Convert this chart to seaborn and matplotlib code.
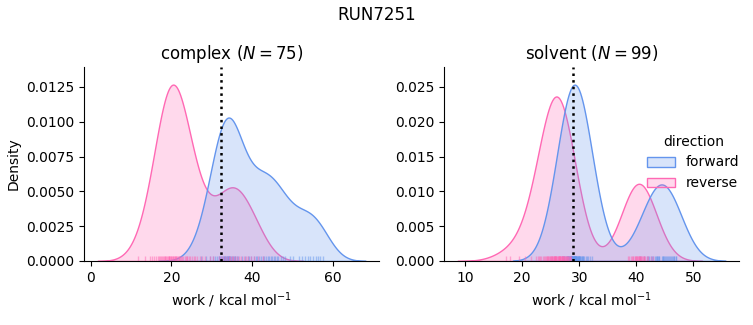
import matplotlib
matplotlib.use("Agg")
import matplotlib.pyplot as plt
import pandas as pd
import seaborn as sns

# ---- data (work values, kcal/mol) ----
complex_forward = [
    27.3, 28.6, 29.5,
    30.2, 30.7, 31.4, 31.8, 31.9,
    32.1, 32.3, 32.6, 32.8, 33.0, 33.1, 33.2, 33.4, 33.6, 33.7, 33.8,
    34.0, 34.1, 34.2, 34.3, 34.4, 34.5, 34.8, 35.0, 35.3, 35.5, 35.7, 35.9,
    36.3, 36.6, 37.4,
    38.3, 38.9, 39.2, 39.7,
    40.4, 40.9, 41.3, 41.8,
    42.2, 42.7, 43.1, 43.5, 43.9,
    44.3, 44.6, 45.0, 45.4, 45.8,
    46.1, 46.5, 47.3, 47.7,
    48.2, 49.5,
    50.3, 51.6,
    52.4, 53.1, 53.8,
    54.5, 55.2, 55.9,
    56.4, 57.0, 57.7,
]
complex_reverse = [
    11.6, 13.4, 14.6, 15.3, 15.8,
    16.2, 16.6, 16.9, 17.2, 17.5, 17.7, 17.9,
    18.1, 18.3, 18.5, 18.7, 18.9, 19.1, 19.3, 19.4, 19.5, 19.6, 19.8, 19.9,
    20.1, 20.3, 20.4, 20.6, 20.8, 21.0, 21.1, 21.2, 21.4, 21.6,
    21.8, 21.9,
    22.2, 22.5, 22.7, 23.0, 23.3, 23.5, 23.8, 23.9,
    24.3, 24.7, 25.1, 25.5, 25.9,
    26.4, 27.0, 27.7,
    28.3, 29.6,
    30.4, 31.7,
    32.3, 32.9, 33.4, 33.8,
    34.2, 34.6, 35.0, 35.4, 35.9,
    36.3, 36.8, 37.2, 37.9,
    38.5, 39.1, 39.8,
    40.6, 41.4,
    42.8,
]
solvent_forward = [
    27.0, 27.2, 27.3, 27.4, 27.6, 27.8, 27.9,
    28.0, 28.1, 28.1, 28.2, 28.2, 28.3, 28.4, 28.4, 28.5, 28.5,
    28.6, 28.6, 28.7, 28.7, 28.7, 28.8, 28.8, 28.8, 28.9, 28.9, 28.9,
    29.0, 29.0, 29.0, 29.1, 29.1, 29.1, 29.2, 29.2, 29.2,
    29.3, 29.3, 29.3, 29.4, 29.4, 29.5, 29.5, 29.5, 29.6, 29.6, 29.7,
    29.7, 29.8, 29.9, 29.9, 30.0, 30.0,
    30.1, 30.2, 30.3, 30.4, 30.5, 30.6, 30.7, 30.9, 31.1, 31.4, 31.6, 31.8,
    32.2,
    40.6, 41.3, 41.8, 42.0, 42.2, 42.5, 42.8, 43.0, 43.2, 43.4, 43.6,
    43.7, 43.8, 43.9, 44.0, 44.5, 44.6, 44.7,
    44.9, 45.0, 45.2, 45.4, 45.5, 45.7, 45.9, 46.1, 46.3, 46.5, 46.6, 46.7,
    46.9, 47.0,
]
solvent_reverse = [
    17.2, 17.8, 19.4, 20.5, 21.6, 22.4, 22.7, 22.9, 23.1, 23.3,
    23.6, 23.8, 24.0, 24.2,
    24.3, 24.4, 24.5, 24.6, 24.7, 24.8, 24.9, 25.0, 25.1, 25.2,
    25.2, 25.3, 25.4, 25.5, 25.5, 25.6, 25.7, 25.7, 25.8, 25.8,
    25.9, 25.9, 26.0, 26.1, 26.2, 26.3,
    26.4, 26.4, 26.5, 26.5, 26.6, 26.6, 26.7, 26.7, 26.8, 26.9,
    26.9, 27.0, 27.0, 27.1, 27.2, 27.2, 27.3, 27.4, 27.5, 27.5,
    27.6, 27.7, 27.8, 27.9, 28.0, 28.1, 28.2, 28.3, 28.4, 28.5,
    38.5, 38.8, 39.0, 39.2, 39.4, 39.5, 39.7, 39.8, 39.9, 40.0,
    40.1, 40.2, 40.3, 40.4, 40.4, 40.5, 40.6, 40.7, 40.8, 40.9, 41.0,
    41.1, 41.3, 41.4, 41.6, 41.8, 42.1, 42.5, 43.0,
]
phases = ["complex", "solvent"]
directions = ["forward", "reverse"]
n_samples = [75, 99]
free_energy = [32.2, 28.9]
colors = ["cornflowerblue", "hotpink"]
run_name = "RUN7251"

# ---- table ----
work_sets = {("complex", "forward"): complex_forward,
             ("complex", "reverse"): complex_reverse,
             ("solvent", "forward"): solvent_forward,
             ("solvent", "reverse"): solvent_reverse}
rows = []
for phase in phases:
    for d in directions:
        for w in work_sets[(phase, d)]:
            rows.append({"phase": phase, "direction": d, "work": w})
df = pd.DataFrame(rows)

g = sns.displot(
    df, x="work", hue="direction", col="phase", kind="kde", fill=True, rug=True,
    hue_order=directions, col_order=phases, palette=colors,
    facet_kws=dict(sharex=False, sharey=False), rug_kws=dict(alpha=0.5),
    height=3.25, aspect=1.0,
)
fig = g.figure
fig.set_size_inches(7.53, 3.25)
fig.subplots_adjust(left=0.1116, right=0.9814, bottom=0.197, top=0.794, wspace=0.22)

g.set_axis_labels("work / kcal mol$^{-1}$", "Density")
for ax, phase, n, dg in zip(g.axes.flat, phases, n_samples, free_energy):
    ax.set_title(f"{phase} ($N={n}$)", fontsize=12)
    ax.axvline(dg, color="black", linestyle=":", linewidth=1.8)

fig.suptitle(run_name, fontsize=12, y=0.98)
sns.move_legend(g, "center right", bbox_to_anchor=(0.999, 0.5), frameon=False)

fig.savefig("out.png", dpi=100)
